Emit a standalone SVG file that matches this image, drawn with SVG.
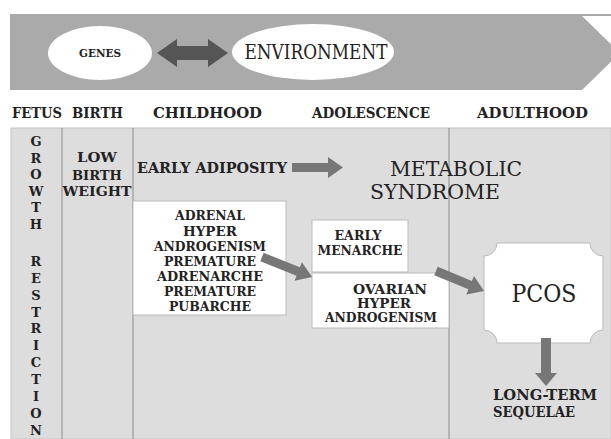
<svg xmlns="http://www.w3.org/2000/svg" width="611" height="439" viewBox="0 0 611 439">
<style>
text{font-family:'DejaVu Serif','Liberation Serif',serif;fill:#222;}
.b{font-weight:bold;}
.n{font-weight:normal;}
.hdr{font-size:14px;font-weight:bold;}
.box{fill:#fff;stroke:#bbb;stroke-width:1;}
.col{stroke:#999;stroke-width:1.2;}
.arr{fill:#777;}
.vl{font-size:13px;text-anchor:middle;font-weight:bold;}
.bt{font-size:12.5px;text-anchor:middle;font-weight:bold;}
.bs{font-size:12px;text-anchor:middle;font-weight:bold;}
</style>
<rect width="611" height="439" fill="#fff"/>
<!-- top band -->
<g id="band">
<polygon points="10,16 582,16 620,53 582,90 10,90" fill="#aaaaaa"/>
<line x1="10" y1="15" x2="611" y2="15" stroke="#555" stroke-width="1.2"/>
</g>
<g id="genes">
<ellipse cx="100" cy="53" rx="52" ry="27" fill="#fff"/>
<text class="b" x="100" y="57" font-size="11" text-anchor="middle" textLength="42" lengthAdjust="spacingAndGlyphs">GENES</text>
</g>
<g id="environment">
<ellipse cx="313" cy="52" rx="81" ry="28" fill="#fff"/>
<text class="n" x="316" y="59" font-size="20" text-anchor="middle" textLength="143" lengthAdjust="spacingAndGlyphs">ENVIRONMENT</text>
</g>
<!-- headers -->
<g id="headers" class="hdr">
<text x="12" y="118" textLength="50" lengthAdjust="spacingAndGlyphs">FETUS</text>
<text x="72" y="118" textLength="51" lengthAdjust="spacingAndGlyphs">BIRTH</text>
<text x="153" y="118" textLength="109" lengthAdjust="spacingAndGlyphs">CHILDHOOD</text>
<text x="312" y="118" textLength="118" lengthAdjust="spacingAndGlyphs">ADOLESCENCE</text>
<text x="477" y="118" textLength="111" lengthAdjust="spacingAndGlyphs">ADULTHOOD</text>
</g>
<!-- panel -->
<g id="panel">
<rect x="11" y="128" width="600" height="311" fill="#dddddd" stroke="#c4c4c4" stroke-width="1"/>
<line class="col" x1="62" y1="128" x2="62" y2="439"/>
<line class="col" x1="133" y1="128" x2="133" y2="439"/>
<line class="col" x1="449" y1="128" x2="449" y2="439"/>
</g>
<g id="growth-restriction" class="vl">
<text x="36" y="146">G</text>
<text x="36" y="163">R</text>
<text x="36" y="179">O</text>
<text x="36" y="196">W</text>
<text x="36" y="212">T</text>
<text x="36" y="229">H</text>
<text x="36" y="266">R</text>
<text x="36" y="283">E</text>
<text x="36" y="300">S</text>
<text x="36" y="317">T</text>
<text x="36" y="333">R</text>
<text x="36" y="350">I</text>
<text x="36" y="367">C</text>
<text x="36" y="384">T</text>
<text x="36" y="401">I</text>
<text x="36" y="418">O</text>
<text x="36" y="435">N</text>
</g>
<g id="low-birth-weight" class="bt">
<text x="97" y="162" textLength="40" lengthAdjust="spacingAndGlyphs">LOW</text>
<text x="97" y="180" textLength="50" lengthAdjust="spacingAndGlyphs">BIRTH</text>
<text x="97" y="196" textLength="69" lengthAdjust="spacingAndGlyphs">WEIGHT</text>
</g>
<g id="early-adiposity">
<text class="b" x="137" y="173" font-size="15" textLength="150" lengthAdjust="spacingAndGlyphs">EARLY ADIPOSITY</text>
</g>
<g id="metabolic-syndrome">
<text class="n" x="390" y="176" font-size="20" textLength="132" lengthAdjust="spacingAndGlyphs">METABOLIC</text>
<text class="n" x="370" y="199" font-size="20" textLength="130" lengthAdjust="spacingAndGlyphs">SYNDROME</text>
</g>
<g id="adrenal">
<rect class="box" x="133" y="201" width="153" height="114"/>
<g class="bt">
<text x="210" y="220" textLength="70" lengthAdjust="spacingAndGlyphs">ADRENAL</text>
<text x="210" y="236" textLength="54" lengthAdjust="spacingAndGlyphs">HYPER</text>
<text x="210" y="251" textLength="112" lengthAdjust="spacingAndGlyphs">ANDROGENISM</text>
<text x="210" y="266" textLength="92" lengthAdjust="spacingAndGlyphs">PREMATURE</text>
<text x="210" y="281" textLength="106" lengthAdjust="spacingAndGlyphs">ADRENARCHE</text>
<text x="210" y="296" textLength="92" lengthAdjust="spacingAndGlyphs">PREMATURE</text>
<text x="210" y="311" textLength="82" lengthAdjust="spacingAndGlyphs">PUBARCHE</text>
</g>
</g>
<g id="early-menarche">
<rect class="box" x="312" y="220" width="96" height="52"/>
<g class="bt">
<text x="358" y="240" textLength="47" lengthAdjust="spacingAndGlyphs">EARLY</text>
<text x="360" y="255" textLength="85" lengthAdjust="spacingAndGlyphs">MENARCHE</text>
</g>
</g>
<g id="ovarian">
<rect class="box" x="312" y="273" width="137" height="55"/>
<g class="bs">
<text x="390" y="294" textLength="74" lengthAdjust="spacingAndGlyphs">OVARIAN</text>
<text x="384" y="308" textLength="54" lengthAdjust="spacingAndGlyphs">HYPER</text>
<text x="381" y="322" textLength="112" lengthAdjust="spacingAndGlyphs">ANDROGENISM</text>
</g>
</g>
<g id="pcos">
<path class="box" d="M497 243 L590 243 A13 13 0 0 0 603 256 L603 330 A13 13 0 0 0 590 343 L497 343 A13 13 0 0 0 484 330 L484 256 A13 13 0 0 0 497 243 Z"/>
<text class="n" x="544" y="302" font-size="24" text-anchor="middle" textLength="65" lengthAdjust="spacingAndGlyphs">PCOS</text>
</g>
<g id="long-term">
<text class="b" x="493" y="400" font-size="14" textLength="104" lengthAdjust="spacingAndGlyphs">LONG-TERM</text>
<text class="b" x="493" y="417" font-size="14" textLength="82" lengthAdjust="spacingAndGlyphs">SEQUELAE</text>
</g>
<!-- connectors -->
<g id="connectors">
<polygon fill="#555" points="157,53 177,39 177,46 208,46 208,39 228,53 208,67 208,60 177,60 177,67"/>
<polygon class="arr" points="292,163 328,163 328,157 343,167.5 328,178 328,172 292,172"/>
<g transform="translate(262,257) rotate(21.8)"><polygon class="arr" points="0,-4.5 39,-4.5 39,-10 54,0 39,10 39,4.5 0,4.5"/></g>
<g transform="translate(436,271) rotate(22.6)"><polygon class="arr" points="0,-4.5 37,-4.5 37,-10 52,0 37,10 37,4.5 0,4.5"/></g>
<polygon class="arr" points="541,338 551,338 551,373 557,373 546,386 535,373 541,373"/>
</g>
</svg>
